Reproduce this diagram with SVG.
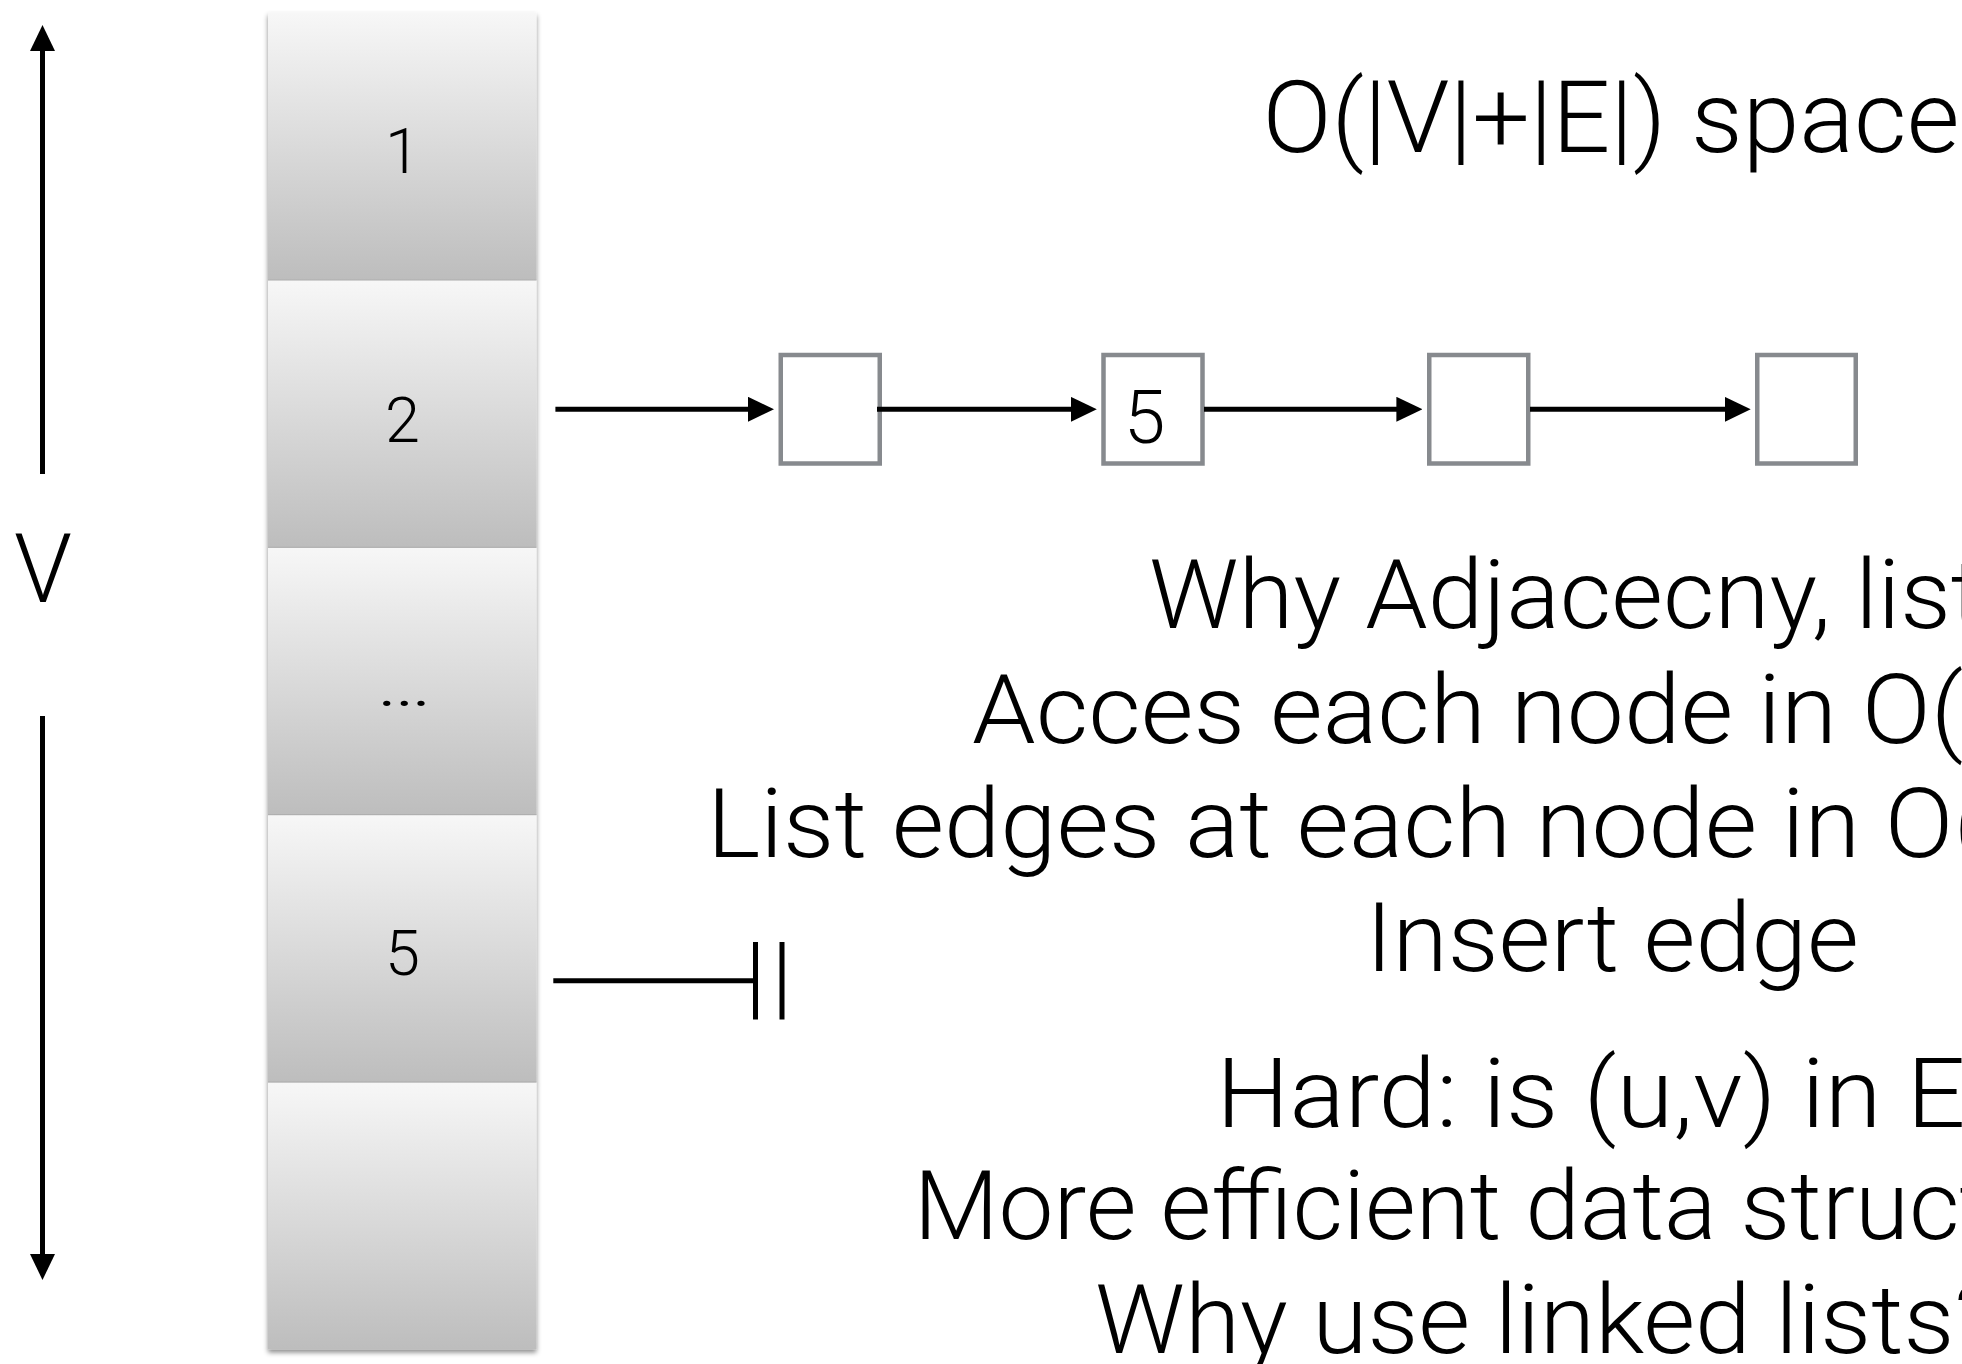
<svg xmlns="http://www.w3.org/2000/svg" width="1962" height="1364" viewBox="0 0 1962 1364">
  <defs>
    <style>
      .t { font-family: "Roboto", "Liberation Sans", "DejaVu Sans", sans-serif; font-weight: 300; fill: #000; }
      .body { font-size: 97px; }
      .cell-label { font-size: 63px; text-anchor: middle; }
      .wire { stroke: #000; stroke-width: 5; fill: none; }
      .box { fill: #fff; stroke: #878a8e; stroke-width: 4.5; }
      .cell { fill: url(#cellShade); }
      .seam { stroke: #a9a9a9; stroke-width: 1; }
    </style>
    <linearGradient id="cellShade" x1="0" y1="0" x2="0" y2="1">
      <stop offset="0" stop-color="#f7f7f7"/>
      <stop offset="1" stop-color="#bdbdbd"/>
    </linearGradient>
    <filter id="colShadow" x="-10%" y="-5%" width="120%" height="110%">
      <feDropShadow dx="0" dy="3" stdDeviation="2.5" flood-color="#000" flood-opacity="0.45"/>
    </filter>
    <marker id="head" viewBox="0 0 26 25" refX="1" refY="12.5" markerWidth="26" markerHeight="25" markerUnits="userSpaceOnUse" orient="auto">
      <path d="M0,0 L26,12.5 L0,25 Z" fill="#000"/>
    </marker>
  </defs>

  <rect x="0" y="0" width="1962" height="1364" fill="#fff"/>

  <!-- vertex array -->
  <g id="vertex-array" filter="url(#colShadow)">
    <g id="cell-1">
      <rect class="cell" x="268" y="12.5" width="268.5" height="267.4"/>
      <text class="t cell-label" x="402.5" y="173">1</text>
    </g>
    <g id="cell-2">
      <rect class="cell" x="268" y="279.9" width="268.5" height="267.4"/>
      <text class="t cell-label" x="402.5" y="442">2</text>
    </g>
    <g id="cell-dots">
      <rect class="cell" x="268" y="547.3" width="268.5" height="267.4"/>
      <text class="t cell-label" x="404" y="706" textLength="56" lengthAdjust="spacingAndGlyphs">…</text>
    </g>
    <g id="cell-5">
      <rect class="cell" x="268" y="814.7" width="268.5" height="267.4"/>
      <text class="t cell-label" x="402.5" y="975">5</text>
    </g>
    <g id="cell-empty">
      <rect class="cell" x="268" y="1082.1" width="268.5" height="267.4"/>
    </g>
    <line class="seam" x1="268" y1="280" x2="536.5" y2="280"/>
    <line class="seam" x1="268" y1="547.3" x2="536.5" y2="547.3"/>
    <line class="seam" x1="268" y1="814.7" x2="536.5" y2="814.7"/>
    <line class="seam" x1="268" y1="1082.1" x2="536.5" y2="1082.1"/>
  </g>

  <!-- size of the array: |V| -->
  <g id="v-label">
    <text class="t body" x="43" y="601.7" text-anchor="middle" textLength="58" lengthAdjust="spacingAndGlyphs">V</text>
  </g>

  <!-- list nodes for vertex 2 -->
  <g id="node-a">
    <rect class="box" x="780.75" y="355" width="99" height="108.5"/>
  </g>
  <g id="node-b">
    <rect class="box" x="1103.5" y="355" width="99" height="108.5"/>
    <text class="t" x="1144.5" y="442.7" font-size="75" text-anchor="middle">5</text>
  </g>
  <g id="node-c">
    <rect class="box" x="1429.25" y="355" width="99" height="108.5"/>
  </g>
  <g id="node-d">
    <rect class="box" x="1757.25" y="355" width="98.5" height="108.5"/>
  </g>

  <!-- connectors -->
  <g id="connectors">
    <line class="wire" x1="42.5" y1="474" x2="42.5" y2="50" marker-end="url(#head)"/>
    <line class="wire" x1="42.5" y1="716" x2="42.5" y2="1255" marker-end="url(#head)"/>
    <line class="wire" x1="555.4" y1="409.3" x2="749" y2="409.3" marker-end="url(#head)"/>
    <line class="wire" x1="877" y1="409.3" x2="1071.8" y2="409.3" marker-end="url(#head)"/>
    <line class="wire" x1="1204" y1="409.3" x2="1397.4" y2="409.3" marker-end="url(#head)"/>
    <line class="wire" x1="1530" y1="409.3" x2="1725.7" y2="409.3" marker-end="url(#head)"/>
    <!-- null terminator for vertex 5 -->
    <line class="wire" x1="553.3" y1="980.8" x2="755.5" y2="980.8"/>
    <line class="wire" x1="755.5" y1="942" x2="755.5" y2="1019.5"/>
    <line class="wire" x1="782" y1="942" x2="782" y2="1019.5"/>
  </g>

  <!-- notes -->
  <g id="notes">
    <text class="t" x="1262.4" y="151.5" font-size="100" textLength="697" lengthAdjust="spacingAndGlyphs">O(|V|+|E|) space</text>
    <text class="t body" x="1149" y="628.3" textLength="834" lengthAdjust="spacingAndGlyphs">Why Adjacecny, list</text>
    <text class="t body" x="972" y="742.7" textLength="991.4" lengthAdjust="spacingAndGlyphs">Acces each node in O(</text>
    <text class="t body" x="706.9" y="857.3" textLength="1278.9" lengthAdjust="spacingAndGlyphs">List edges at each node in O(</text>
    <text class="t body" x="1365.7" y="971" textLength="493.3" lengthAdjust="spacingAndGlyphs">Insert edge</text>
    <text class="t body" x="1216.3" y="1127" textLength="749.2" lengthAdjust="spacingAndGlyphs">Hard: is (u,v) in E</text>
    <text class="t body" x="913.7" y="1239" textLength="1077.4" lengthAdjust="spacingAndGlyphs">More efficient data struct</text>
    <text class="t body" x="1095" y="1353.3" textLength="905" lengthAdjust="spacingAndGlyphs">Why use linked lists?</text>
  </g>
</svg>
